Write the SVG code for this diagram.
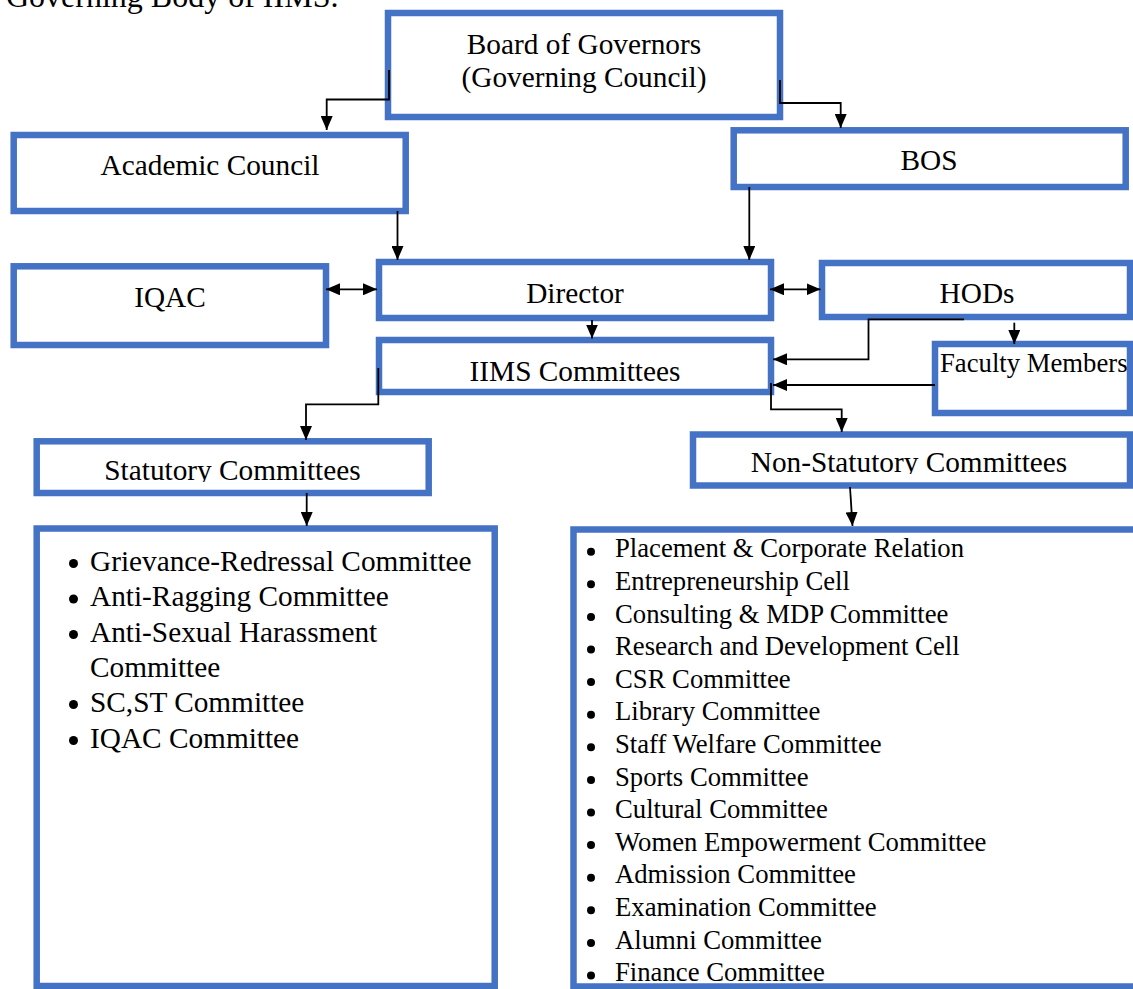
<svg xmlns="http://www.w3.org/2000/svg" width="1133" height="989" viewBox="0 0 1133 989">
<style>
.box{fill:#fff;stroke:#4472C4;stroke-width:6.5}
.t{font-family:"Liberation Serif","Times New Roman",serif;font-size:29.3px;fill:#000}
.ts{font-family:"Liberation Serif","Times New Roman",serif;font-size:26.7px;fill:#000}
.c{text-anchor:middle}
.ln{fill:none;stroke:#000;stroke-width:1.8}
.a{marker-end:url(#ah)}
.d{marker-start:url(#ah);marker-end:url(#ah)}
</style>
<defs>
<marker id="ah" viewBox="0 0 14 12" refX="14" refY="6" markerWidth="14" markerHeight="12" markerUnits="userSpaceOnUse" orient="auto-start-reverse">
<path d="M0,0 L14,6 L0,12 z" fill="#000"/>
</marker>
<clipPath id="clipStat"><rect x="40" y="444" width="386" height="38"/></clipPath>
<clipPath id="clipNon"><rect x="697" y="437" width="436" height="37"/></clipPath>
</defs>
<rect width="1133" height="989" fill="#fff"/>
<text class="t" x="6" y="7" style="font-size:32px">Governing Body of IIMS.</text>

<g id="board">
<rect class="box" x="388" y="13" width="392" height="104"/>
<text class="t c" x="584" y="54">Board of Governors</text>
<text class="t c" x="584" y="87">(Governing Council)</text>
</g>
<g id="academic-council">
<rect class="box" x="13.7" y="135" width="392" height="76"/>
<text class="t c" x="210" y="175">Academic Council</text>
</g>
<g id="bos">
<rect class="box" x="733.7" y="130.3" width="392" height="56.7"/>
<text class="t c" x="929" y="170">BOS</text>
</g>
<g id="iqac">
<rect class="box" x="13.7" y="266.3" width="312.3" height="78.7"/>
<text class="t c" x="170" y="306.7">IQAC</text>
</g>
<g id="director">
<rect class="box" x="379" y="262" width="392" height="56"/>
<text class="t c" x="575" y="303">Director</text>
</g>
<g id="hods">
<rect class="box" x="822" y="263" width="308" height="54"/>
<text class="t c" x="977" y="302.7">HODs</text>
</g>
<g id="iims-committees">
<rect class="box" x="379" y="340" width="392" height="52"/>
<text class="t c" x="575" y="381">IIMS Committees</text>
</g>
<g id="faculty-members">
<rect class="box" x="935" y="344" width="195" height="69"/>
<text class="ts" x="940" y="371.7">Faculty Members</text>
</g>
<g id="statutory">
<rect class="box" x="36.7" y="441.3" width="392" height="51.7"/>
<text class="t c" x="232.5" y="480" clip-path="url(#clipStat)">Statutory Committees</text>
</g>
<g id="non-statutory">
<rect class="box" x="693" y="434.5" width="437" height="51"/>
<text class="t c" x="909" y="471.5" clip-path="url(#clipNon)">Non-Statutory Committees</text>
</g>
<g id="statutory-list">
<rect class="box" x="36.7" y="528.5" width="458" height="457.5"/>
<g fill="#000">
<circle cx="73.5" cy="563.5" r="4.5"/>
<circle cx="73.5" cy="599" r="4.5"/>
<circle cx="73.5" cy="634.5" r="4.5"/>
<circle cx="73.5" cy="704.5" r="4.5"/>
<circle cx="73.5" cy="740.5" r="4.5"/>
</g>
<text class="t" x="90" y="570.7">Grievance-Redressal Committee</text>
<text class="t" x="90" y="606.2">Anti-Ragging Committee</text>
<text class="t" x="90" y="641.7">Anti-Sexual Harassment</text>
<text class="t" x="90" y="676.7">Committee</text>
<text class="t" x="90" y="711.7">SC,ST Committee</text>
<text class="t" x="90" y="747.7">IQAC Committee</text>
</g>
<g id="non-statutory-list">
<rect class="box" x="573.5" y="529.5" width="570" height="457"/>
<g fill="#000">
<circle cx="591" cy="551.7" r="4"/>
<circle cx="591" cy="584.3" r="4"/>
<circle cx="591" cy="616.9" r="4"/>
<circle cx="591" cy="649.5" r="4"/>
<circle cx="591" cy="682.1" r="4"/>
<circle cx="591" cy="714.7" r="4"/>
<circle cx="591" cy="747.3" r="4"/>
<circle cx="591" cy="779.9" r="4"/>
<circle cx="591" cy="812.5" r="4"/>
<circle cx="591" cy="845.1" r="4"/>
<circle cx="591" cy="877.7" r="4"/>
<circle cx="591" cy="910.3" r="4"/>
<circle cx="591" cy="942.9" r="4"/>
<circle cx="591" cy="975.5" r="4"/>
</g>
<text class="ts" x="615" y="557.3">Placement &amp; Corporate Relation</text>
<text class="ts" x="615" y="589.9">Entrepreneurship Cell</text>
<text class="ts" x="615" y="622.5">Consulting &amp; MDP Committee</text>
<text class="ts" x="615" y="655.1">Research and Development Cell</text>
<text class="ts" x="615" y="687.7">CSR Committee</text>
<text class="ts" x="615" y="720.3">Library Committee</text>
<text class="ts" x="615" y="752.9">Staff Welfare Committee</text>
<text class="ts" x="615" y="785.5">Sports Committee</text>
<text class="ts" x="615" y="818.1">Cultural Committee</text>
<text class="ts" x="615" y="850.7">Women Empowerment Committee</text>
<text class="ts" x="615" y="883.3">Admission Committee</text>
<text class="ts" x="615" y="915.9">Examination Committee</text>
<text class="ts" x="615" y="948.5">Alumni Committee</text>
<text class="ts" x="615" y="981.1">Finance Committee</text>
</g>

<g id="connectors">
<path class="ln a" d="M389,70 V99.5 H326.7 V130"/>
<path class="ln a" d="M780,80 V103 H840.7 V128"/>
<path class="ln a" d="M397.5,211 V260"/>
<path class="ln a" d="M749.3,187 V260"/>
<path class="ln d" d="M326,289.3 H377"/>
<path class="ln d" d="M770,289.3 H820.5"/>
<path class="ln a" d="M592,320 V338.5"/>
<path class="ln a" d="M964,319.3 H868.5 V359.3 H773"/>
<path class="ln a" d="M1014.3,322.7 V344"/>
<path class="ln a" d="M935,385 H773"/>
<path class="ln a" d="M378.3,368 V404.3 H306 V440"/>
<path class="ln a" d="M771,383 V409.3 H841.7 V432"/>
<path class="ln a" d="M306.7,493 V526"/>
<path class="ln a" d="M850,487 L852.5,526"/>
</g>
</svg>
